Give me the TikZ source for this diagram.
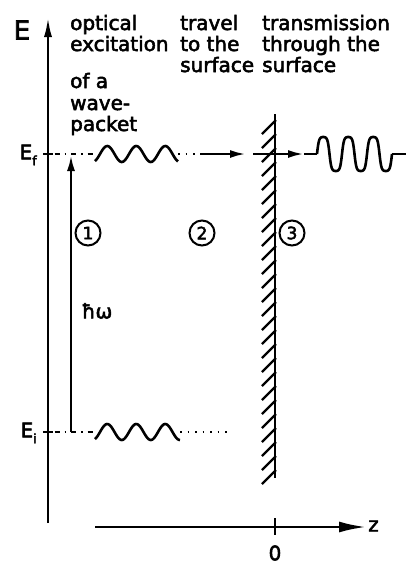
\documentclass[tikz,border=0pt]{standalone}
\usepackage{fontspec}
\setmainfont{DejaVu Sans}[BoldFont={DejaVu Sans},BoldFeatures={FakeBold=2.6}]
\usetikzlibrary{arrows.meta}

\begin{document}
\begin{tikzpicture}[
x=1pt,y=-1pt,
every node/.style={font=\fontsize{20}{21}\selectfont\bfseries,inner sep=0pt},
word/.style={anchor=base west},
axis/.style={line width=2.6pt},
lvl/.style={line width=2.2pt,dash pattern=on 1.5pt off 5pt on 5pt off 5pt},
dots/.style={line width=2.2pt,dash pattern=on 1.5pt off 6pt},
wave/.style={line width=2.6pt},
num/.style={draw,circle,line width=2pt,minimum size=25pt,font=\fontsize{17}{17}\selectfont\bfseries},
arr/.style={-{Latex[length=16pt,width=8pt]},line width=2.6pt}
]
\useasboundingbox (0,0) rectangle (406,566);

% energy and z axes
\coordinate (e0) at (48,523);
\coordinate (e1) at (48,17);
\draw[axis,-{Latex[length=20pt,width=8pt]}] (e0) -- (e1);
\node (elbl) at (22,30) {\fontsize{26}{26}\selectfont E};
\coordinate (z0) at (95,527);
\coordinate (z1) at (366,527);
\draw[axis,-{Latex[length=27pt,width=11pt]}] (z0) -- (z1);
\node[anchor=west] (zlbl) at (368,526) {z};
\coordinate (zt0) at (275,518);
\coordinate (zt1) at (275,535);
\draw[axis] (zt0) -- (zt1);
\node (olbl) at (275,553) {0};

% levels E_f and E_i
\coordinate (ef) at (48,154);
\coordinate (ei) at (48,432);
\draw[axis] ([xshift=-5pt]ef) -- ([xshift=5pt]ef);
\draw[axis] ([xshift=-5pt]ei) -- ([xshift=5pt]ei);
\node[anchor=east] (eflbl) at (37,155) {E\raisebox{-6pt}{\fontsize{13}{13}\selectfont f}};
\node[anchor=east] (eilbl) at (37,433) {E\raisebox{-6pt}{\fontsize{13}{13}\selectfont i}};

% final state: wave packet travels to the surface and leaves it
\coordinate (fw0) at (95,154);
\coordinate (fw1) at (178,154);
\coordinate (fa0) at (200,154);
\coordinate (fa1) at (246,154);
\coordinate (fs0) at (253,154);
\coordinate (fs1) at (275,154);
\coordinate (fo1) at (304,154);
\coordinate (fo2) at (317,154);
\coordinate (fo3) at (392,154);
\coordinate (fo4) at (406,154);
\draw[lvl] (ef) -- (fw0);
\draw[wave] plot[domain=95:178,samples=80] (\x,{154-8*sin((\x-100)*12.41)});
\draw[dots] (fw1) -- (fa0);
\draw[arr] (fa0) -- (fa1);
\draw[axis] (fs0) -- (fs1);
\draw[arr] (fs1) -- (fo1);
\draw[axis] (fo1) -- (fo2);
\draw[wave] plot[domain=317:392,samples=160] (\x,{154-17*tanh(2*sin((\x-317)*14.4))/tanh(2)});
\draw[wave] (fo3) -- (fo4);

% initial state
\coordinate (iw0) at (95,432);
\coordinate (iw1) at (180,432);
\coordinate (id1) at (232,432);
\draw[lvl] (ei) -- (iw0);
\draw[wave] plot[domain=95:180,samples=80] (\x,{432-8*sin((\x-100)*12.41)});
\draw[dots] (iw1) -- (id1);

% photon
\coordinate (hw0) at (71,432);
\coordinate (hw1) at (71,155);
\draw[arr] (hw0) -- (hw1);
\node (hw) at (97,311) {ħω};

% surface
\coordinate (s0) at (275,114);
\coordinate (s1) at (275,478);
\draw[axis] (s0) -- (s1);
\foreach \k in {0,...,25}
  \draw[line width=2.2pt] (276,120+14*\k) -- (262,134+14*\k);

% steps
\node[num] (n1) at (88,233) {1};
\node[num] (n2) at (202,233) {2};
\node[num] (n3) at (292,233) {3};

% captions
\node[word] (c1a) at (70,30) {optical};
\node[word] (c1b) at (70,51) {excitation};
\node[word] (c1c) at (70,88) {of a};
\node[word] (c1d) at (70,110) {wave-};
\node[word] (c1e) at (70,131) {packet};
\node[word] (c2a) at (180,30) {travel};
\node[word] (c2b) at (180,51) {to the};
\node[word] (c2c) at (180,72) {surface};
\node[word] (c3a) at (262,30) {transmission};
\node[word] (c3b) at (262,51) {through the};
\node[word] (c3c) at (262,72) {surface};
\end{tikzpicture}
\end{document}
